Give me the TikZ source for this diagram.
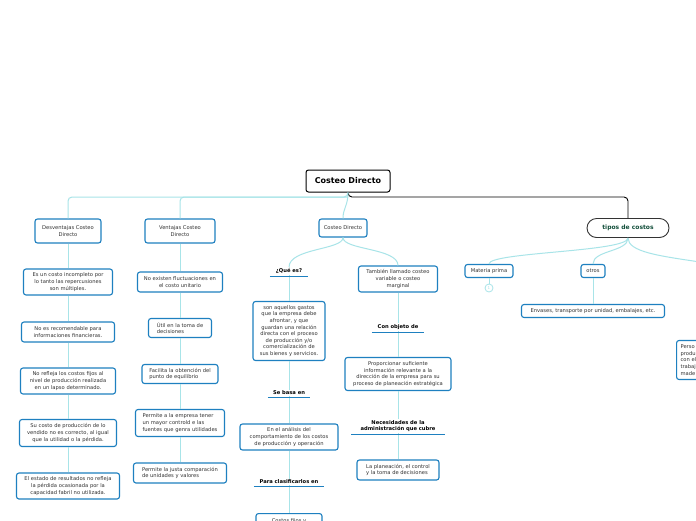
\documentclass[tikz,border=0pt]{standalone}
\usepackage{fontspec}
\setmainfont{DejaVu Sans}
\definecolor{boxblue}{RGB}{30,128,192}
\definecolor{conn}{RGB}{168,228,232}
\definecolor{txt}{RGB}{50,50,50}
\definecolor{tiposgreen}{RGB}{20,80,60}
\tikzset{
  box/.style={draw=boxblue, line width=1.1pt, rounded corners=2.5pt, fill=white, text=txt,
    font=\fontsize{5.2}{6.6}\selectfont, inner xsep=3pt, inner ysep=2pt, align=center},
  boxl/.style={box, align=left},
  lbl/.style={font=\bfseries\fontsize{5.2}{6.6}\selectfont, text=black, inner sep=1pt, align=center},
  uline/.style={draw=boxblue, line width=0.9pt},
  link/.style={draw=conn, line width=1pt},
}
\begin{document}
\begin{tikzpicture}[x=1pt,y=-1pt]
\useasboundingbox (0,0) rectangle (696,520);
\clip (0,0) rectangle (696,520);
\fill[white] (0,0) rectangle (696,520);

% root and top level
\node[draw=black, line width=1pt, rounded corners=2.5pt, fill=white, font=\bfseries\fontsize{8}{9}\selectfont,
  minimum width=84, minimum height=22] (root) at (348,181) {Costeo Directo};
\coordinate (rj) at (348,197);
\node[draw=black!80, line width=0.9pt, rounded corners=9.5pt, fill=white, text=tiposgreen,
  font=\bfseries\fontsize{6}{7}\selectfont, minimum width=82, minimum height=19] (tipos) at (628,228) {tipos de costos};
\node[box, minimum width=66, minimum height=24] (desv) at (68,231) {Desventajas Costeo\\Directo};
\node[box, minimum width=70, minimum height=24] (vent) at (180,231) {Ventajas Costeo\\Directo};
\node[box, minimum width=48, minimum height=18] (cd) at (343,228) {Costeo Directo};

% Desventajas column
\node[box, minimum width=89, minimum height=26] (d1) at (68,282) {Es un costo incompleto por\\lo tanto las repercusiones\\son múltiples.};
\node[box, minimum width=93, minimum height=20] (d2) at (68,332) {No es recomendable para\\informaciones financieras.};
\node[box, minimum width=95, minimum height=26] (d3) at (68,381) {No refleja los costos fijos al\\nivel de producción realizada\\en un lapso determinado.};
\node[box, minimum width=97, minimum height=27] (d4) at (68,433) {Su costo de producción de lo\\vendido no es correcto, al igual\\que la utilidad o la pérdida.};
\node[box, minimum width=103, minimum height=26] (d5) at (68,486) {El estado de resultados no refleja\\la pérdida ocasionada por la\\capacidad fabril no utilizada.};

% Ventajas column
\node[box, minimum width=85, minimum height=20] (v1) at (180,282) {No existen fluctuaciones en\\el costo unitario};
\node[boxl, minimum width=63, minimum height=19] (v2) at (180,328) {Útil en la toma de\\decisiones};
\node[boxl, minimum width=76, minimum height=19] (v3) at (180,374) {Facilita la obtención del\\punto de equilibrio};
\node[boxl, minimum width=89, minimum height=27] (v4) at (180,423) {Permite a la empresa tener\\un mayor controld e las\\fuentes que genra utilidades};
\node[boxl, minimum width=93, minimum height=20] (v5) at (180,473) {Permite la justa comparación\\de unidades y valores};

% Costeo Directo column (left)
\node[lbl, minimum width=38] (qe) at (289,271) {¿Qué es?};
\node[box, minimum width=72, minimum height=59] (q1) at (289,331) {son aquellos gastos\\que la empresa debe\\afrontar, y que\\guardan una relación\\directa con el proceso\\de producción y/o\\comercialización de\\sus bienes y servicios.};
\node[lbl, minimum width=42] (sb) at (289,393) {Se basa en};
\node[box, minimum width=98, minimum height=26] (e1) at (289,437) {En el análisis del\\comportamiento de los costos\\de producción y operación};
\node[lbl, minimum width=70] (pc) at (289,482) {Para clasificarlos en};
\node[box, minimum width=66, minimum height=24, anchor=north, text depth=10pt] (c1) at (289,513) {Costos fijos y};

% Costeo Directo column (right)
\node[box, minimum width=79, minimum height=26] (t1) at (398,279) {También llamado costeo\\variable o costeo\\marginal};
\node[lbl, minimum width=52] (co) at (398,327) {Con objeto de};
\node[box, minimum width=106, minimum height=33] (p1) at (398,374) {Proporcionar suficiente\\información relevante a la\\dirección de la empresa para su\\proceso de planeación estratégica};
\node[lbl, minimum width=93] (nec) at (398,426) {Necesidades de la\\administración que cubre};
\node[boxl, minimum width=82, minimum height=20] (l1) at (398,470) {La planeación, el control\\y la toma de decisiones};

% tipos de costos children
\node[box, minimum width=48, minimum height=13, inner ysep=1pt] (mp) at (489,271) {Materia prima};
\node[circle, draw=conn, line width=0.8pt, inner sep=0pt, minimum size=8, text=conn,
  font=\fontsize{4}{4}\selectfont] (mpc) at (489,288) {1};
\node[box, minimum width=24, minimum height=13, inner ysep=1pt] (ot) at (593,271) {otros};
\node[box, minimum width=143, minimum height=13, inner ysep=1pt] (env) at (593,311) {Envases, transporte por unidad, embalajes, etc.};
\node[boxl, text width=50, minimum height=39, anchor=west, inner xsep=4pt] (pers) at (676,360) {Perso\\produ\\con el\\trabaj\\made};
\coordinate (rightout) at (700,262);

% connectors
\draw[black, line width=0.9pt, rounded corners=4pt] (root.south) -- (rj) -| (tipos.north);
\draw[link, rounded corners=4pt] (root.south) -- (rj) -| (desv.north);
\draw[link, rounded corners=4pt] (rj) -| (vent.north);
\draw[link] (root.south) .. controls (348,206) and (343,208) .. (cd.north);

\foreach \a/\b in {desv/d1,d1/d2,d2/d3,d3/d4,d4/d5,vent/v1,v1/v2,v2/v3,v3/v4,v4/v5,
  qe/q1,q1/sb,sb/e1,e1/pc,pc/c1,t1/co,co/p1,p1/nec,nec/l1,mp/mpc,ot/env}
  \draw[link] (\a.south) -- (\b.north);

\draw[link] (cd.south) .. controls (343,250) and (289,248) .. (qe.north);
\draw[link] (cd.south) .. controls (343,250) and (398,248) .. (t1.north);

\draw[link] (tipos.south) .. controls (628,252) and (489,252) .. (mp.north);
\draw[link] (tipos.south) .. controls (628,252) and (593,250) .. (ot.north);
\draw[link] (tipos.south) .. controls (628,252) and (660,256) .. (rightout);

% underlines of labels
\foreach \n in {qe,sb,pc,co,nec}
  \draw[uline] ([yshift=-1.5pt]\n.south west) -- ([yshift=-1.5pt]\n.south east);
\end{tikzpicture}
\end{document}
